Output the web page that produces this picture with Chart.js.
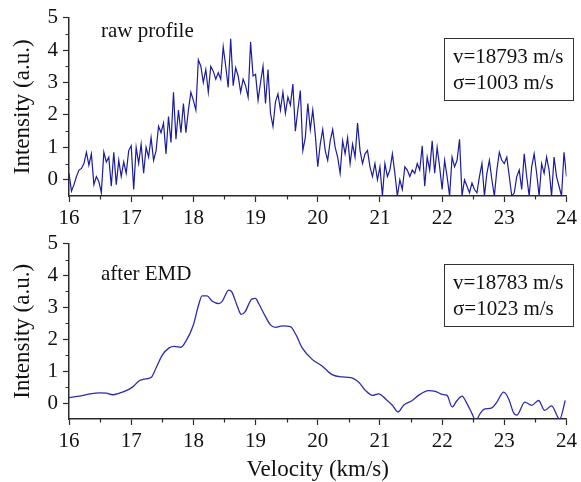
<!DOCTYPE html>
<html>
<head>
<meta charset="utf-8">
<script src="https://cdn.jsdelivr.net/npm/chart.js@4.4.0/dist/chart.umd.min.js"></script>
<style>
html, body { margin:0; padding:0; background:#fff; }
#wrap { position:relative; width:581px; height:482px; overflow:hidden; }
canvas { position:absolute; left:0; }
</style>
</head>
<body>
<div id="wrap">
  <canvas id="rawPanel" width="581" height="232" style="top:0"></canvas>
  <canvas id="emdPanel" width="581" height="256" style="top:226px"></canvas>
</div>
<script>
// axis ticks (km/s and a.u.)
var velocityTicks = [16, 17, 18, 19, 20, 21, 22, 23, 24];
var intensityTicks = [0, 1, 2, 3, 4, 5];

// raw profile, sampled every 0.04 km/s from 16 km/s
var rawStart = 16, rawStep = 0.04;
var rawIntensity = [
  0.2,-0.35,-0.15,0.1,0.3,0.35,0.5,0.85,0.45,0.8,-0.15,0.1,-0.05,-0.4,0.85,0.55,0.7,-0.2,0.85,-0.15,0.6,0.1,0.55,0.2,0.9,
  1.05,-0.3,1.0,0.5,1.1,0.2,1.0,0.7,1.3,0.6,0.9,1.65,1.45,1.75,0.8,1.95,1.15,2.7,1.25,2.15,1.45,2.35,1.45,2.15,2.7,
  2.45,2.15,3.7,3.5,3.0,3.4,2.7,3.5,3.35,3.1,3.3,3.1,4.1,3.5,2.85,4.35,2.9,3.45,3.2,2.7,3.1,2.9,2.55,4.25,3.2,
  3.25,2.45,3.0,3.5,2.35,3.4,2.05,1.65,2.4,2.65,2.15,2.7,2.05,2.55,2.3,2.95,1.5,2.15,2.75,0.9,1.3,2.35,1.55,2.15,1.4,
  0.4,1.1,1.55,0.9,0.6,1.2,1.55,1.0,0.7,0.2,1.2,0.8,1.3,0.5,1.1,0.7,1.75,0.9,0.5,0.8,0.9,0.4,0.1,0.5,0.0,
  0.4,-0.5,0.5,0.1,0.3,0.8,0.2,-0.5,0.0,-0.3,0.4,0.3,0.1,0.3,0.2,0.5,0.3,1.05,-0.2,0.7,0.3,1.2,0.2,1.0,0.4,
  -0.3,0.6,0.1,-0.5,0.7,0.4,0.6,1.25,-0.5,0.0,-0.2,-0.4,-0.1,-0.3,-0.4,0.1,0.5,-0.5,0.2,0.6,0.0,-0.5,0.3,0.85,0.6,
  0.5,0.7,0.1,-0.5,-0.4,0.1,0.3,-0.3,0.8,0.1,-0.5,0.4,0.8,0.2,-0.5,0.5,0.2,0.7,0.3,-0.5,0.7,0.1,-0.2,-0.5,0.85,
  0.1
];

// profile after EMD denoising
var emdVelocity = [16.0,16.23,16.34,16.5,16.6,16.7,16.81,16.92,17.02,17.13,17.21,17.32,17.4,17.5,17.61,17.69,17.8,17.88,
  18.0,18.09,18.14,18.22,18.3,18.41,18.46,18.57,18.62,18.7,18.77,18.83,18.94,19.0,19.05,19.16,19.24,19.32,19.43,19.56,
  19.65,19.75,19.91,20.07,20.23,20.39,20.53,20.66,20.77,20.88,20.98,21.09,21.2,21.29,21.38,21.52,21.62,21.78,21.89,
  22.0,22.08,22.16,22.24,22.32,22.4,22.48,22.54,22.61,22.67,22.8,22.88,22.99,23.07,23.15,23.2,23.33,23.44,23.55,23.65,
  23.76,23.89,23.98];
var emdIntensity = [0.17,0.24,0.29,0.32,0.31,0.26,0.31,0.39,0.5,0.7,0.75,0.8,1.1,1.5,1.73,1.78,1.75,1.94,
  2.45,3.12,3.36,3.36,3.2,3.12,3.18,3.54,3.48,3.07,2.78,2.86,3.26,3.28,3.12,2.71,2.45,2.37,2.42,2.4,
  2.14,1.73,1.37,1.16,0.89,0.82,0.8,0.65,0.39,0.24,0.29,0.13,-0.07,-0.28,-0.07,0.08,0.24,0.39,0.37,
  0.27,0.24,-0.12,0.08,0.22,-0.02,-0.33,-0.55,-0.33,-0.2,-0.15,0.03,0.34,0.13,-0.31,-0.38,0.03,-0.07,0.08,-0.23,
  -0.09,-0.5,0.08];

var rawFit = ['v=18793 m/s', 'σ=1003 m/s'];
var emdFit = ['v=18783 m/s', 'σ=1023 m/s'];

var FONT = "'Liberation Serif', 'Times New Roman', serif";
var AXIS = '#2b2b2b';
var TEXT = '#111';

// minor ticks, caption and fit box for one panel
var panelDecor = {
  id: 'panelDecor',
  afterDraw: function(chart, args, opts){
    var ctx = chart.ctx, area = chart.chartArea;
    var xs = chart.scales.x, ys = chart.scales.y;
    ctx.save();
    ctx.strokeStyle = AXIS;
    ctx.lineWidth = 1.2;
    ctx.beginPath();
    for (var i = 0; i < velocityTicks.length - 1; i++){
      var px = Math.round(xs.getPixelForValue((velocityTicks[i] + velocityTicks[i+1]) / 2)) + 0.5;
      ctx.moveTo(px, area.bottom);
      ctx.lineTo(px, area.bottom + 3.5);
    }
    for (var j = 0; j < intensityTicks.length - 1; j++){
      var py = Math.round(ys.getPixelForValue((intensityTicks[j] + intensityTicks[j+1]) / 2)) + 0.5;
      ctx.moveTo(area.left, py);
      ctx.lineTo(area.left - 3.5, py);
    }
    ctx.stroke();

    ctx.fillStyle = TEXT;
    ctx.font = '21px ' + FONT;
    ctx.textAlign = 'left';
    ctx.textBaseline = 'alphabetic';
    ctx.fillText(opts.caption, area.left + 32, area.top + opts.captionY);

    var bx = area.left + 375, by = area.top + 20;
    ctx.strokeStyle = '#333';
    ctx.lineWidth = 1;
    ctx.strokeRect(Math.round(bx) + 0.5, Math.round(by) + 0.5, 129, 62);
    ctx.fillText(opts.fit[0], bx + 9, by + 25);
    ctx.fillText(opts.fit[1], bx + 9, by + 51);
    ctx.restore();
  }
};

function fixedTicks(list){
  return function(scale){
    scale.ticks = list.map(function(v){ return {value: v}; });
  };
}

function panelOptions(cfg){
  return {
    responsive: false,
    animation: false,
    devicePixelRatio: 1,
    layout: { padding: { top: cfg.padTop, right: 12, left: 0, bottom: 0 } },
    plugins: {
      legend: { display: false },
      tooltip: { enabled: false },
      panelDecor: cfg.decor
    },
    scales: {
      x: {
        type: 'linear', min: 16, max: 24,
        afterBuildTicks: fixedTicks(velocityTicks),
        afterFit: function(s){ s.height = cfg.xHeight; },
        grid: { drawOnChartArea: false, drawTicks: true, tickLength: 6, tickColor: AXIS, tickWidth: 1.2 },
        border: { display: true, color: AXIS, width: 1.5 },
        ticks: { font: { family: FONT, size: 21 }, color: TEXT, padding: 4, maxRotation: 0, autoSkip: false },
        title: { display: cfg.xTitle, text: 'Velocity (km/s)', color: TEXT,
                 font: { family: FONT, size: 23 }, padding: { top: 0, bottom: -2 } }
      },
      y: {
        min: -0.5, max: 5,
        afterBuildTicks: fixedTicks(intensityTicks),
        afterFit: function(s){ s.width = 69; },
        grid: { drawOnChartArea: false, drawTicks: true, tickLength: 6, tickColor: AXIS, tickWidth: 1.2 },
        border: { display: true, color: AXIS, width: 1.5 },
        ticks: { font: { family: FONT, size: 21 }, color: TEXT, padding: 5 },
        title: { display: true, text: 'Intensity (a.u.)', color: TEXT,
                 font: { family: FONT, size: 23 }, padding: { top: 9, bottom: 0 } }
      }
    }
  };
}

// top panel: raw profile
var rawPoints = [];
for (var k = 0; k < rawIntensity.length; k++){
  rawPoints.push({ x: +(rawStart + k * rawStep).toFixed(2), y: rawIntensity[k] });
}
new Chart(document.getElementById('rawPanel').getContext('2d'), {
  type: 'line',
  data: { datasets: [{
    data: rawPoints,
    borderColor: '#1c1c9c',
    borderWidth: 1.2,
    pointRadius: 0,
    tension: 0
  }]},
  options: panelOptions({ padTop: 17, xHeight: 36, xTitle: false,
    decor: { caption: 'raw profile', captionY: 19, fit: rawFit } }),
  plugins: [panelDecor]
});

// bottom panel: after EMD
var emdPoints = emdVelocity.map(function(v, i){ return { x: v, y: emdIntensity[i] }; });
new Chart(document.getElementById('emdPanel').getContext('2d'), {
  type: 'line',
  data: { datasets: [{
    data: emdPoints,
    borderColor: '#2c2cae',
    borderWidth: 1.3,
    pointRadius: 0,
    cubicInterpolationMode: 'monotone'
  }]},
  options: panelOptions({ padTop: 15, xHeight: 63, xTitle: true,
    decor: { caption: 'after EMD', captionY: 36, fit: emdFit } }),
  plugins: [panelDecor]
});
</script>
</body>
</html>
